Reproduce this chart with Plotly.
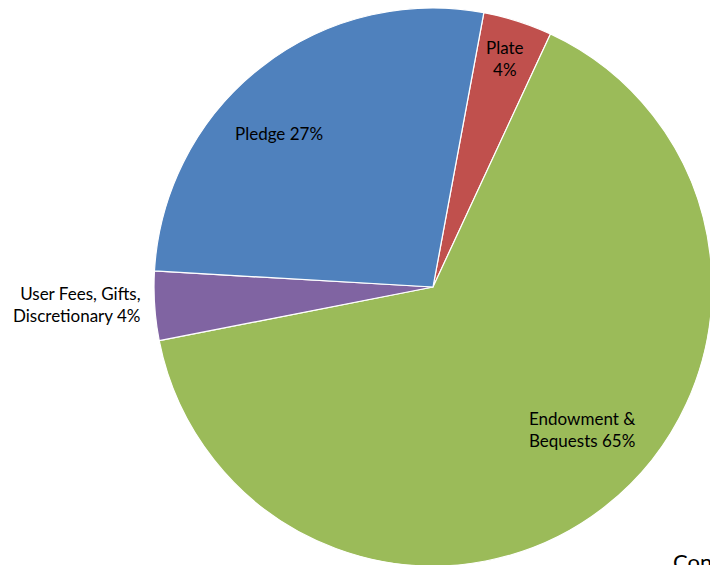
import plotly.graph_objects as go

# ---- data ----
labels = ["Plate", "Endowment & Bequests", "User Fees, Gifts, Discretionary", "Pledge"]
values = [4, 65, 4, 27]
label_texts = ["Plate<br>4%", "Endowment &<br>Bequests 65%", "User Fees, Gifts,<br>Discretionary 4%", "Pledge 27%"]
colors = ["#C0504D", "#9BBB59", "#8064A2", "#4F81BD"]

W, H = 740, 600

def px(x, y):
    return x / W, 1 - y / H

fig = go.Figure(go.Pie(
    labels=labels,
    values=values,
    sort=False,
    direction="clockwise",
    rotation=10.5,
    marker=dict(colors=colors, line=dict(color="white", width=1.2)),
    textinfo="none",
    hoverinfo="label+percent",
    showlegend=False,
    domain=dict(x=[154 / W, 712 / W], y=[(H - 566) / H, (H - 8) / H]),
))

# label placement (pixel positions, style only)
label_pos = [(505, 58, "center"), (582, 429, "center"), (143, 304, "right"), (279, 133, "center")]
for t, (x, y, al) in zip(label_texts, label_pos):
    xx, yy = px(x, y)
    fig.add_annotation(x=xx, y=yy, xref="paper", yref="paper", text=t, showarrow=False,
                       xanchor=al, yanchor="middle", align=al,
                       font=dict(family="Lato", size=17, color="#000000"))

cx, cy = px(671, 546)
fig.add_annotation(x=cx, y=cy, xref="paper", yref="paper", text="Contributions",
                   showarrow=False, xanchor="left", yanchor="top",
                   font=dict(family="Lato", size=22, color="#000000"))

fig.update_layout(width=W, height=H, margin=dict(l=0, r=0, t=0, b=0),
                  paper_bgcolor="white", plot_bgcolor="white")

fig.write_html("out.html", config={"displayModeBar": False},
               post_script="document.body.style.margin='0';document.body.style.overflow='hidden';document.documentElement.style.overflow='hidden';")
